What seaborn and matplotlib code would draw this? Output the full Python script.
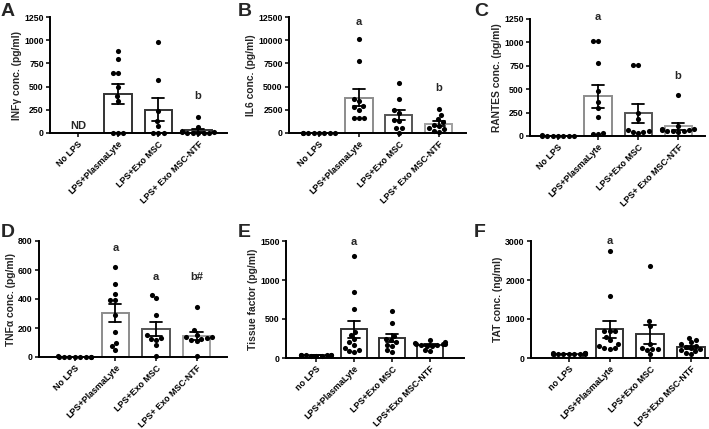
import numpy as np
import pandas as pd
import matplotlib
matplotlib.use("Agg")
import matplotlib.pyplot as plt
import seaborn as sns

sns.set_style("ticks")
plt.rcParams["font.family"] = ["Liberation Sans", "DejaVu Sans"]
plt.rcParams["font.weight"] = "bold"
plt.rcParams["axes.labelweight"] = "bold"

groups_top = ["No LPS", "LPS+PlasmaLyte", "LPS+Exo MSC", "LPS+ Exo MSC-NTF"]
groups_bot = ["no LPS", "LPS+PlasmaLyte", "LPS+Exo MSC", "LPS+Exo MSC-NTF"]

# A: INF-gamma (No LPS not detected)
ifng_nolps = []
ifng_plasma = [880, 800, 645, 645, 495, 395, 340, 5, 5, 5]
ifng_exo = [980, 575, 235, 125, 72, 5, 5, 5]
ifng_ntf = [175, 60, 20, 15, 10, 5, 5, 5, 5, 5]

# B: IL6
il6_nolps = [10, 20, 30, 15, 25, 5, 35, 20]
il6_plasma = [10100, 7800, 3700, 3400, 2900, 2800, 2500, 1650, 1650, 1600]
il6_exo = [5350, 3650, 2500, 2200, 1450, 1300, 500, 500, 50]
il6_ntf = [2550, 1950, 1500, 1200, 900, 800, 500, 400, 250, 150]

# C: RANTES
rantes_nolps = [3, 5, 4, 6, 2, 5, 4, 3]
rantes_plasma = [1020, 1015, 775, 480, 360, 300, 200, 30, 25, 20]
rantes_exo = [760, 755, 250, 180, 60, 50, 45, 40, 30]
rantes_ntf = [435, 110, 80, 70, 65, 60, 55, 50, 50, 45]

# D: TNF-alpha
tnfa_nolps = [2, 3, 1, 4, 2, 3, 1, 2, 3]
tnfa_plasma = [620, 505, 435, 395, 395, 290, 170, 100, 75, 45]
tnfa_exo = [430, 405, 290, 150, 130, 125, 120, 80, 10]
tnfa_ntf = [345, 185, 155, 140, 135, 130, 125, 120, 110, 10]

# E: Tissue factor
tf_nolps = [30, 35, 40, 32, 38, 28, 36, 42, 33]
tf_plasma = [1310, 850, 630, 330, 300, 250, 200, 170, 130, 100, 90, 80]
tf_exo = [600, 450, 280, 250, 230, 200, 170, 150, 100, 80]
tf_ntf = [225, 200, 195, 185, 180, 175, 170, 165, 160, 150, 100, 90]

# F: TAT
tat_nolps = [100, 110, 120, 105, 115, 125, 95, 130, 110, 100]
tat_plasma = [2750, 1600, 700, 690, 680, 550, 450, 350, 300, 250, 250, 230]
tat_exo = [2350, 950, 820, 350, 250, 230, 220, 200, 100]
tat_ntf = [520, 450, 400, 350, 300, 270, 250, 220, 200, 170, 130, 100]

W, H = 709, 429
fig = plt.figure(figsize=(W / 100, H / 100), dpi=100)

dark = "#333333"
mid = "#8c8c8c"
panels = [
    dict(letter="A", rect=(50, 227, 17, 133), groups=groups_top,
         data=[ifng_nolps, ifng_plasma, ifng_exo, ifng_ntf],
         ylim=1250, yticks=[0, 250, 500, 750, 1000, 1250],
         ylabel="INFγ conc. (pg/ml)", xlim=(-0.7, 3.72),
         edges=[dark, dark, dark, dark],
         ann=[(0, 80, "ND"), (3, 395, "b")]),
    dict(letter="B", rect=(289, 466, 17, 133), groups=groups_top,
         data=[il6_nolps, il6_plasma, il6_exo, il6_ntf],
         ylim=12500, yticks=[0, 2500, 5000, 7500, 10000, 12500],
         ylabel="IL6 conc. (pg/ml)", xlim=(-0.75, 3.68),
         edges=[dark, mid, "#555555", "#a0a0a0"],
         ann=[(1, 12000, "a"), (3, 4850, "b")]),
    dict(letter="C", rect=(530, 705, 19, 136), groups=groups_top,
         data=[rantes_nolps, rantes_plasma, rantes_exo, rantes_ntf],
         ylim=1250, yticks=[0, 250, 500, 750, 1000, 1250],
         ylabel="RANTES conc. (pg/ml)", xlim=(-0.7, 3.67),
         edges=[dark, mid, "#555555", "#a0a0a0"],
         ann=[(1, 1275, "a"), (3, 640, "b")]),
    dict(letter="D", rect=(39, 227, 241, 357), groups=groups_top,
         data=[tnfa_nolps, tnfa_plasma, tnfa_exo, tnfa_ntf],
         ylim=800, yticks=[0, 200, 400, 600, 800],
         ylabel="TNFα conc. (pg/ml)", xlim=(-0.88, 3.75),
         edges=[dark, mid, "#555555", "#a0a0a0"],
         ann=[(1, 750, "a"), (2, 555, "a"), (3, 555, "b#")]),
    dict(letter="E", rect=(286, 464, 241, 358), groups=groups_bot,
         data=[tf_nolps, tf_plasma, tf_exo, tf_ntf],
         ylim=1500, yticks=[0, 500, 1000, 1500],
         ylabel="Tissue factor (pg/ml)", xlim=(-0.8, 3.9),
         edges=[dark, dark, dark, dark],
         ann=[(1, 1490, "a")]),
    dict(letter="F", rect=(531, 708, 241, 358), groups=groups_bot,
         data=[tat_nolps, tat_plasma, tat_exo, tat_ntf],
         ylim=3000, yticks=[0, 1000, 2000, 3000],
         ylabel="TAT conc. (ng/ml)", xlim=(-0.93, 3.42),
         edges=[dark, dark, dark, dark],
         ann=[(1, 3000, "a")]),
]

letter_pos = {"A": (1, 3), "B": (238, 3), "C": (474, 3),
              "D": (1, 224), "E": (238, 224), "F": (474, 224)}

for p in panels:
    x0, x1, yt, yb = p["rect"]
    ax = fig.add_axes([x0 / W, 1 - yb / H, (x1 - x0) / W, (yb - yt) / H])
    rows = []
    for g, vals in zip(p["groups"], p["data"]):
        for v in vals:
            rows.append((g, v))
    df = pd.DataFrame(rows, columns=["group", "value"])
    sns.barplot(data=df, x="group", y="value", order=p["groups"], ax=ax,
                errorbar="se", capsize=0.3, width=0.68,
                color="white", edgecolor=dark, linewidth=1.4,
                err_kws={"color": "black", "linewidth": 1.3, "zorder": 4})
    for patch in ax.patches:
        cx = int(round(patch.get_x() + patch.get_width() / 2))
        patch.set_edgecolor(p["edges"][cx])
        patch.set_zorder(2)
    sns.swarmplot(data=df, x="group", y="value", order=p["groups"], ax=ax,
                  color="black", size=3.7, zorder=3, warn_thresh=1.0)
    for c in ax.collections:
        c.set_clip_on(False)
    ax.set_ylim(0, p["ylim"])
    ax.set_xlim(*p["xlim"])
    ax.set_yticks(p["yticks"])
    ax.set_yticklabels([str(t) for t in p["yticks"]], fontsize=6.3, fontweight="bold")
    ax.set_xticks(range(4))
    ax.set_xticklabels(p["groups"], rotation=45, ha="right", rotation_mode="anchor",
                       fontsize=6.4, fontweight="bold")
    ax.set_xlabel("")
    ax.set_ylabel(p["ylabel"], fontsize=7.4, fontweight="bold", labelpad=1.5)
    ax.tick_params(axis="both", length=3, width=1.1, pad=1.5, colors="black")
    for s in ["top", "right"]:
        ax.spines[s].set_visible(False)
    for s in ["left", "bottom"]:
        ax.spines[s].set_linewidth(1.4)
        ax.spines[s].set_color("black")
    for (xi, yv, s) in p["ann"]:
        ax.text(xi, yv, s, ha="center", va="center", fontsize=8, fontweight="bold")
    lx, ly = letter_pos[p["letter"]]
    fig.text(lx / W, 1 - ly / H, p["letter"], fontsize=14, fontweight="bold",
             va="top", ha="left")

fig.savefig("out.png", dpi=100)
